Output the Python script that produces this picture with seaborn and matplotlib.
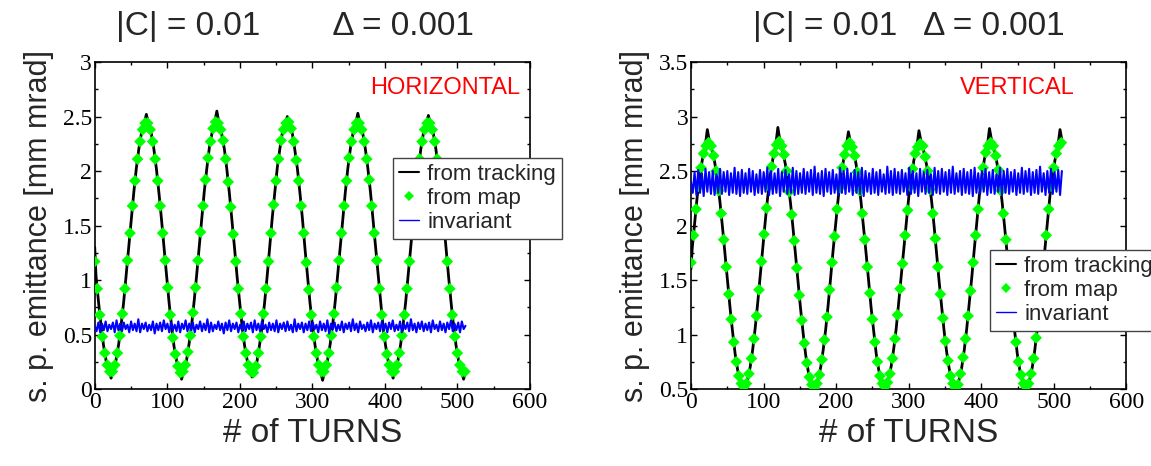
import numpy as np
import matplotlib
matplotlib.use("Agg")
import matplotlib.pyplot as plt
import seaborn as sns
from matplotlib.lines import Line2D
from matplotlib.ticker import MultipleLocator, FuncFormatter

# ---------------- data ----------------
map_turns = np.linspace(0, 510.2, 148)                       # "from map" sample turns
track_turns = np.r_[0.0, np.linspace(1.74, 511.9, 148)]      # "from tracking" sample turns
inv_turns = np.linspace(0, 511, 205)                         # invariant sample turns

# HORIZONTAL panel
map_h = [
    1.17, 0.92, 0.68, 0.48, 0.33, 0.22, 0.16, 0.16, 0.22, 0.33, 0.49, 0.69, 0.92, 1.18, 1.43, 1.68, 1.91, 2.11, 2.27, 2.38, 2.44, 2.44, 2.38, 2.27, 2.11, 1.91, 1.68, 1.43,
    1.18, 0.93, 0.68, 0.47, 0.32, 0.21, 0.15, 0.16, 0.22, 0.34, 0.49, 0.70, 0.93, 1.18, 1.44, 1.68, 1.92, 2.12, 2.27, 2.39, 2.45, 2.44, 2.38, 2.28, 2.11, 1.90, 1.67, 1.42,
    1.17, 0.92, 0.69, 0.48, 0.33, 0.22, 0.16, 0.15, 0.21, 0.33, 0.48, 0.69, 0.92, 1.17, 1.43, 1.69, 1.91, 2.11, 2.28, 2.38, 2.44, 2.45, 2.39, 2.27, 2.10, 1.91, 1.68, 1.43,
    1.16, 0.91, 0.68, 0.48, 0.33, 0.22, 0.16, 0.16, 0.22, 0.33, 0.49, 0.69, 0.93, 1.18, 1.43, 1.68, 1.91, 2.12, 2.27, 2.38, 2.44, 2.44, 2.38, 2.27, 2.11, 1.92, 1.68, 1.43,
    1.18, 0.92, 0.68, 0.48, 0.32, 0.22, 0.16, 0.16, 0.22, 0.33, 0.49, 0.68, 0.92, 1.17, 1.43, 1.68, 1.91, 2.11, 2.27, 2.38, 2.44, 2.44, 2.38, 2.27, 2.11, 1.91, 1.68, 1.44,
    1.17, 0.92, 0.68, 0.48, 0.33, 0.22, 0.16, 0.16]
track_h = [1.30,
    1.04, 0.80, 0.58, 0.40, 0.26, 0.18, 0.10, 0.18, 0.27, 0.41, 0.59, 0.80, 1.05, 1.30, 1.56, 1.80, 2.02, 2.20, 2.34, 2.42, 2.52, 2.42, 2.34, 2.20, 2.02, 1.80, 1.56, 1.30,
    1.05, 0.80, 0.58, 0.39, 0.26, 0.17, 0.09, 0.18, 0.27, 0.42, 0.59, 0.81, 1.05, 1.31, 1.56, 1.81, 2.02, 2.21, 2.34, 2.43, 2.55, 2.42, 2.33, 2.20, 2.01, 1.79, 1.55, 1.30,
    1.04, 0.81, 0.58, 0.40, 0.27, 0.18, 0.11, 0.17, 0.26, 0.41, 0.58, 0.80, 1.04, 1.30, 1.57, 1.80, 2.03, 2.20, 2.35, 2.42, 2.50, 2.43, 2.34, 2.19, 2.02, 1.80, 1.56, 1.29,
    1.04, 0.79, 0.58, 0.40, 0.26, 0.18, 0.08, 0.18, 0.27, 0.41, 0.59, 0.80, 1.05, 1.30, 1.56, 1.80, 2.02, 2.20, 2.34, 2.42, 2.53, 2.42, 2.34, 2.20, 2.02, 1.81, 1.56, 1.31,
    1.05, 0.80, 0.57, 0.40, 0.26, 0.18, 0.10, 0.18, 0.27, 0.41, 0.59, 0.80, 1.05, 1.30, 1.56, 1.80, 2.02, 2.20, 2.34, 2.42, 2.51, 2.42, 2.34, 2.20, 2.02, 1.80, 1.56, 1.30,
    1.04, 0.80, 0.58, 0.40, 0.26, 0.18, 0.09, 0.18]
inv_h = [
    0.58, 0.53, 0.61, 0.52, 0.60, 0.54, 0.62, 0.53, 0.59, 0.55, 0.61, 0.52, 0.63, 0.54, 0.60, 0.53, 0.61, 0.55, 0.59, 0.52,
    0.62, 0.54, 0.60, 0.53, 0.64, 0.52, 0.60, 0.55, 0.61, 0.53, 0.59, 0.54, 0.62, 0.51, 0.60, 0.54, 0.61, 0.53, 0.63, 0.55,
    0.60, 0.52, 0.61, 0.54, 0.59, 0.53, 0.62, 0.52, 0.60, 0.55, 0.63, 0.53, 0.60, 0.54, 0.61, 0.52, 0.59, 0.55, 0.62, 0.53,
    0.60, 0.54, 0.64, 0.52, 0.61, 0.53, 0.59, 0.55, 0.62, 0.54, 0.60, 0.51, 0.61, 0.54, 0.63, 0.53, 0.60, 0.55, 0.61, 0.52,
    0.59, 0.54, 0.62, 0.53, 0.60, 0.55, 0.61, 0.52, 0.63, 0.54, 0.60, 0.53, 0.62, 0.55, 0.59, 0.52, 0.61, 0.54, 0.60, 0.53,
    0.63, 0.52, 0.60, 0.55, 0.61, 0.53, 0.62, 0.54, 0.59, 0.52, 0.64, 0.53, 0.60, 0.55, 0.61, 0.52, 0.60, 0.54, 0.62, 0.53,
    0.61, 0.55, 0.59, 0.52, 0.62, 0.54, 0.60, 0.53, 0.63, 0.51, 0.60, 0.55, 0.61, 0.53, 0.59, 0.54, 0.62, 0.52, 0.60, 0.55,
    0.61, 0.53, 0.64, 0.54, 0.60, 0.52, 0.62, 0.55, 0.59, 0.53, 0.61, 0.54, 0.63, 0.52, 0.60, 0.55, 0.61, 0.53, 0.62, 0.54,
    0.60, 0.52, 0.61, 0.55, 0.63, 0.53, 0.59, 0.54, 0.62, 0.52, 0.60, 0.55, 0.61, 0.53, 0.64, 0.54, 0.60, 0.52, 0.61, 0.55,
    0.62, 0.53, 0.60, 0.54, 0.61, 0.52, 0.63, 0.55, 0.59, 0.53, 0.62, 0.54, 0.60, 0.52, 0.61, 0.55, 0.63, 0.53, 0.60, 0.54,
    0.61, 0.52, 0.62, 0.55, 0.58]

# VERTICAL panel
map_v = [
    1.66, 1.91, 2.15, 2.36, 2.53, 2.66, 2.73, 2.76, 2.73, 2.64, 2.50, 2.32, 2.11, 1.87, 1.62, 1.37, 1.14, 0.93, 0.75, 0.62, 0.55, 0.52, 0.55, 0.64, 0.78, 0.96, 1.17, 1.41,
    1.67, 1.92, 2.16, 2.36, 2.54, 2.66, 2.74, 2.77, 2.73, 2.65, 2.50, 2.31, 2.10, 1.86, 1.61, 1.36, 1.13, 0.92, 0.74, 0.61, 0.54, 0.51, 0.55, 0.63, 0.77, 0.95, 1.16, 1.41,
    1.66, 1.90, 2.15, 2.35, 2.53, 2.65, 2.73, 2.76, 2.72, 2.64, 2.49, 2.32, 2.11, 1.87, 1.62, 1.38, 1.14, 0.93, 0.75, 0.62, 0.55, 0.52, 0.56, 0.64, 0.78, 0.96, 1.18, 1.42,
    1.65, 1.91, 2.14, 2.36, 2.52, 2.66, 2.72, 2.75, 2.73, 2.63, 2.50, 2.33, 2.11, 1.88, 1.62, 1.37, 1.15, 0.94, 0.76, 0.62, 0.55, 0.51, 0.54, 0.64, 0.79, 0.96, 1.17, 1.40,
    1.66, 1.91, 2.15, 2.37, 2.53, 2.67, 2.73, 2.76, 2.73, 2.64, 2.51, 2.32, 2.11, 1.87, 1.63, 1.37, 1.14, 0.93, 0.75, 0.63, 0.55, 0.52, 0.55, 0.64, 0.78, 0.97, 1.17, 1.41,
    1.66, 1.91, 2.15, 2.36, 2.53, 2.66, 2.73, 2.76]
track_v = [1.60,
    1.79, 2.03, 2.27, 2.45, 2.60, 2.70, 2.88, 2.75, 2.68, 2.57, 2.41, 2.22, 1.99, 1.74, 1.49, 1.25, 1.03, 0.83, 0.68, 0.58, 0.46, 0.53, 0.59, 0.70, 0.86, 1.06, 1.29, 1.54,
    1.80, 2.04, 2.27, 2.46, 2.61, 2.71, 2.90, 2.75, 2.67, 2.56, 2.40, 2.21, 1.98, 1.73, 1.48, 1.24, 1.02, 0.82, 0.67, 0.57, 0.45, 0.52, 0.59, 0.70, 0.86, 1.05, 1.28, 1.54,
    1.79, 2.02, 2.26, 2.45, 2.59, 2.70, 2.86, 2.74, 2.68, 2.57, 2.41, 2.22, 1.99, 1.75, 1.50, 1.25, 1.04, 0.83, 0.68, 0.58, 0.47, 0.53, 0.60, 0.71, 0.87, 1.06, 1.30, 1.55,
    1.78, 2.03, 2.27, 2.44, 2.60, 2.69, 2.87, 2.75, 2.67, 2.56, 2.42, 2.23, 2.00, 1.74, 1.49, 1.26, 1.03, 0.84, 0.69, 0.58, 0.45, 0.52, 0.59, 0.70, 0.86, 1.06, 1.29, 1.53,
    1.79, 2.03, 2.28, 2.45, 2.61, 2.70, 2.89, 2.76, 2.68, 2.57, 2.41, 2.22, 1.99, 1.74, 1.49, 1.25, 1.03, 0.83, 0.68, 0.58, 0.46, 0.53, 0.59, 0.70, 0.86, 1.06, 1.29, 1.54,
    1.79, 2.03, 2.27, 2.45, 2.60, 2.70, 2.88, 2.75]
inv_v = [
    2.40, 2.30, 2.49, 2.28, 2.51, 2.30, 2.48, 2.27, 2.52, 2.31, 2.49, 2.29, 2.50, 2.28, 2.47, 2.30, 2.52, 2.29, 2.49, 2.31,
    2.50, 2.28, 2.48, 2.30, 2.53, 2.29, 2.49, 2.27, 2.51, 2.30, 2.48, 2.29, 2.52, 2.31, 2.50, 2.28, 2.47, 2.30, 2.51, 2.29,
    2.49, 2.31, 2.53, 2.28, 2.50, 2.29, 2.48, 2.30, 2.52, 2.27, 2.49, 2.31, 2.51, 2.29, 2.47, 2.30, 2.53, 2.28, 2.50, 2.29,
    2.48, 2.30, 2.52, 2.29, 2.49, 2.31, 2.51, 2.28, 2.54, 2.30, 2.48, 2.29, 2.50, 2.27, 2.52, 2.31, 2.49, 2.29, 2.51, 2.30,
    2.47, 2.28, 2.53, 2.30, 2.50, 2.29, 2.52, 2.31, 2.48, 2.28, 2.51, 2.30, 2.49, 2.29, 2.53, 2.27, 2.50, 2.31, 2.48, 2.29,
    2.52, 2.30, 2.49, 2.28, 2.51, 2.31, 2.47, 2.29, 2.54, 2.30, 2.50, 2.28, 2.52, 2.30, 2.49, 2.29, 2.51, 2.31, 2.48, 2.28,
    2.53, 2.29, 2.50, 2.30, 2.48, 2.27, 2.52, 2.31, 2.49, 2.29, 2.51, 2.30, 2.47, 2.28, 2.53, 2.30, 2.50, 2.29, 2.52, 2.31,
    2.49, 2.28, 2.51, 2.30, 2.54, 2.29, 2.48, 2.31, 2.50, 2.28, 2.52, 2.30, 2.49, 2.29, 2.51, 2.27, 2.53, 2.30, 2.48, 2.29,
    2.50, 2.31, 2.52, 2.28, 2.49, 2.30, 2.51, 2.29, 2.47, 2.31, 2.53, 2.28, 2.50, 2.30, 2.52, 2.29, 2.49, 2.31, 2.51, 2.28,
    2.48, 2.30, 2.53, 2.29, 2.50, 2.31, 2.52, 2.28, 2.49, 2.30, 2.51, 2.29, 2.54, 2.31, 2.48, 2.28, 2.50, 2.30, 2.52, 2.29,
    2.49, 2.31, 2.51, 2.28, 2.50]

series_labels = ["from tracking", "from map", "invariant"]
titles = ["|C| = 0.01        \u0394 = 0.001", "|C| = 0.01   \u0394 = 0.001"]
tags = ["HORIZONTAL", "VERTICAL"]
x_label = "# of TURNS"
y_label = "s. p. emittance [mm mrad]"

# ---------------- style ----------------
sns.set_style("ticks")
plt.rcParams['font.family'] = ['Liberation Serif', 'DejaVu Serif']
SANS = ['Liberation Sans', 'DejaVu Sans']

fig = plt.figure(figsize=(11.51, 4.66), dpi=100)
axes = [fig.add_axes([0.0823, 0.1652, 0.3782, 0.7017]),
        fig.add_axes([0.6003, 0.1652, 0.3784, 0.7017])]

panels = [
    dict(trk=track_h, mp=map_h, inv=inv_h, ylim=(0, 3), title_x=0.46, tag_x=0.977, leg=(0.3414, 0.661)),
    dict(trk=track_v, mp=map_v, inv=inv_v, ylim=(0.5, 3.5), title_x=0.50, tag_x=0.882, leg=(0.8601, 0.4635)),
]

GREEN = '#00ff00'
fmt = FuncFormatter(lambda v, p: f"{v:g}")

for i, (ax, p) in enumerate(zip(axes, panels)):
    sns.lineplot(x=track_turns, y=p['trk'], ax=ax, color='black', lw=2.0,
                 estimator=None, sort=False, zorder=2)
    sns.scatterplot(x=map_turns, y=p['mp'], ax=ax, marker='D', color=GREEN,
                    s=36, linewidth=0, edgecolor='none', zorder=3)
    sns.lineplot(x=inv_turns, y=p['inv'], ax=ax, color='#0000ff', lw=1.5,
                 estimator=None, sort=False, zorder=4)

    ax.set_xlim(0, 600)
    ax.set_ylim(*p['ylim'])
    ax.xaxis.set_major_locator(MultipleLocator(100))
    ax.xaxis.set_minor_locator(MultipleLocator(50))
    ax.yaxis.set_major_locator(MultipleLocator(0.5))
    ax.yaxis.set_minor_locator(MultipleLocator(0.25))
    ax.yaxis.set_major_formatter(fmt)
    ax.xaxis.set_major_formatter(fmt)
    ax.tick_params(which='both', direction='in', top=True, right=True,
                   width=1.0, labelsize=17, pad=2, colors='black')
    ax.tick_params(which='major', length=4)
    ax.tick_params(which='minor', length=2.5)
    for s in ax.spines.values():
        s.set_linewidth(1.2)
        s.set_color('black')

    ax.set_xlabel(x_label, fontsize=24, fontfamily=SANS, labelpad=4)
    ax.set_ylabel(y_label, fontsize=22, fontfamily=SANS, labelpad=6)

    ax.text(p['title_x'], 1.083, titles[i], transform=ax.transAxes, ha='center',
            va='baseline', fontsize=24, fontfamily=SANS)
    ax.text(p['tag_x'], 0.92, tags[i], transform=ax.transAxes, ha='right',
            va='center', fontsize=17, color='#ff0000', fontfamily=SANS)

    handles = [Line2D([], [], color='black', lw=1.5),
               Line2D([], [], ls='none', marker='D', color=GREEN, ms=5, mew=0),
               Line2D([], [], color='#0000ff', lw=1.0)]
    leg = ax.legend(handles, series_labels, loc='upper left', bbox_to_anchor=p['leg'],
                    bbox_transform=fig.transFigure, prop={'family': SANS, 'size': 16},
                    frameon=True, fancybox=False, framealpha=1, edgecolor='#444444',
                    borderpad=0.25, labelspacing=0.15, handlelength=0.9,
                    handletextpad=0.4, borderaxespad=0)
    leg.get_frame().set_linewidth(1.0)

fig.savefig("out.png", dpi=100)
